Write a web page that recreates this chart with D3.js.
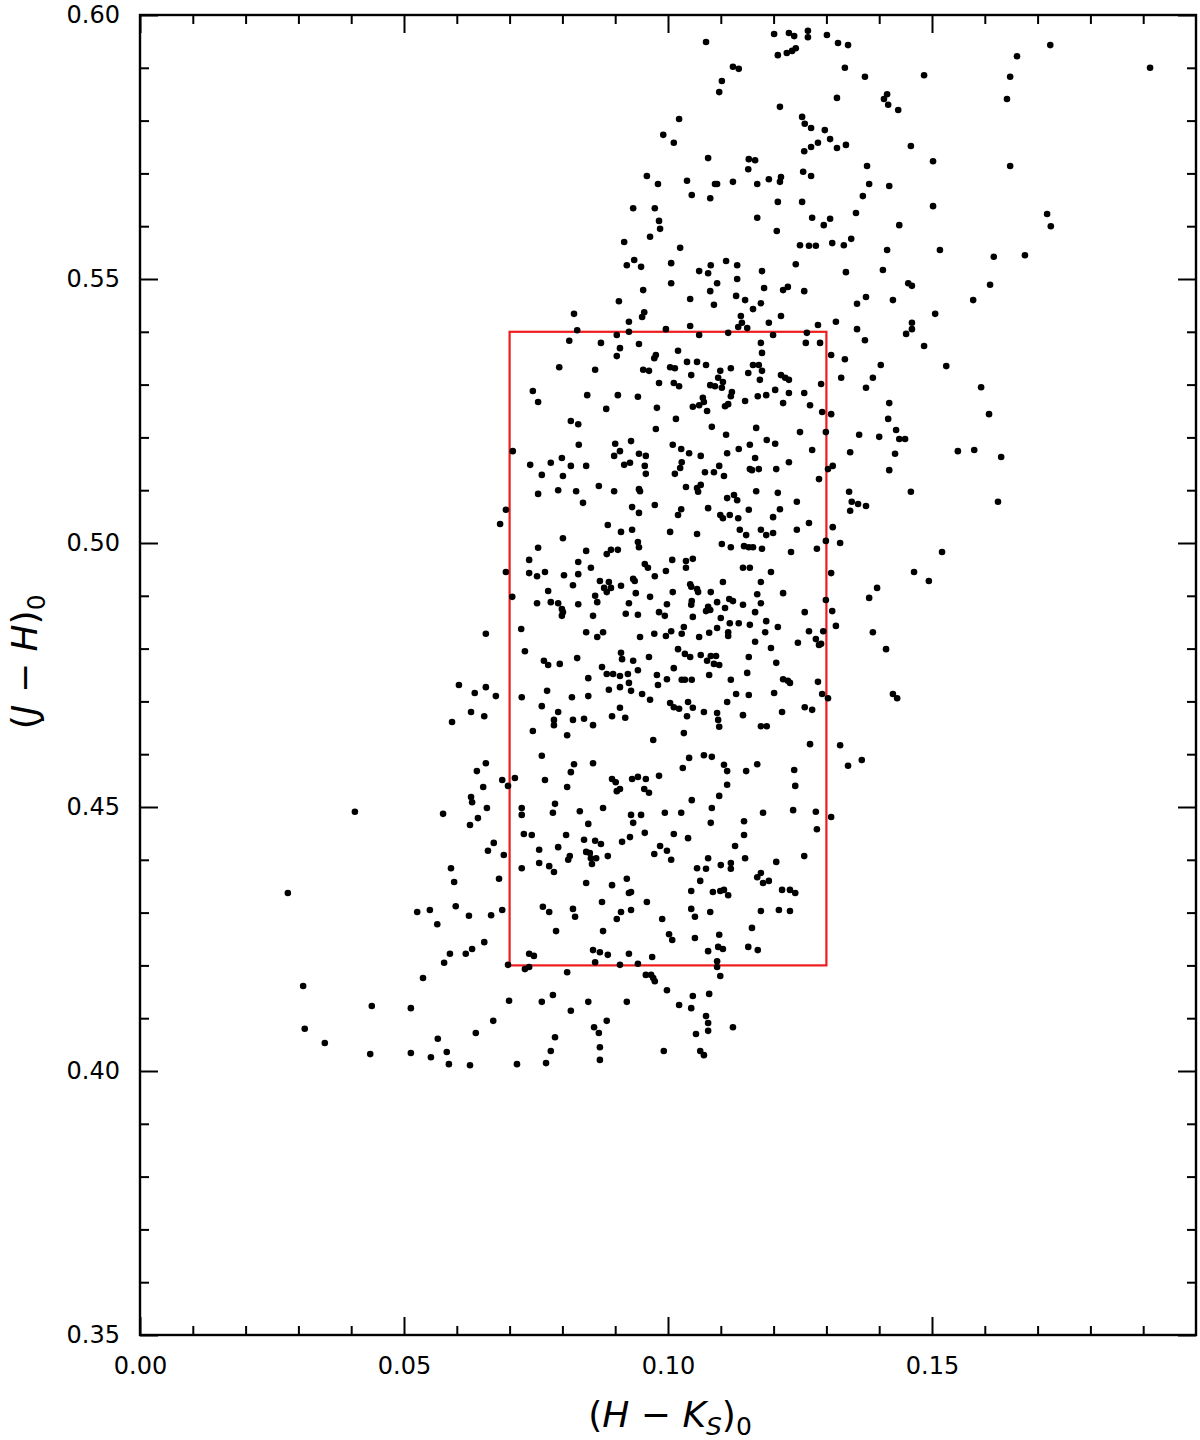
<!DOCTYPE html>
<html>
<head>
<meta charset="utf-8">
<script src="https://cdn.jsdelivr.net/npm/d3@7"></script>
<style>
  body { margin: 0; background: #fff; }
  text { font-family: "DejaVu Sans", sans-serif; fill: #000; }
</style>
</head>
<body>
<div id="chart"></div>
<script>
// (H - Ks)0 , (J - H)0 pairs
var starsLowerLeft = [[0.0627,0.4680],[0.0652,0.4672],[0.0591,0.4661],[0.0655,0.4583],[0.0638,0.4568],[0.0686,0.4551],[0.0710,0.4555],[0.0697,0.4540],[0.0650,0.4538],[0.0627,0.4519],[0.0629,0.4509],[0.0657,0.4498],[0.0407,0.4491],[0.0574,0.4487],[0.0640,0.4479],[0.0625,0.4466],[0.0670,0.4432],[0.0659,0.4417],[0.0689,0.4409],[0.0589,0.4384],[0.0595,0.4358],[0.0680,0.4364],[0.0280,0.4337],[0.0525,0.4301],[0.0549,0.4305],[0.0598,0.4312],[0.0563,0.4278],[0.0623,0.4294],[0.0665,0.4295],[0.0686,0.4305],[0.0652,0.4244],[0.0629,0.4231],[0.0617,0.4222],[0.0587,0.4222],[0.0576,0.4205],[0.0697,0.4201],[0.0536,0.4176],[0.0309,0.4161],[0.0699,0.4133],[0.0439,0.4123],[0.0513,0.4119],[0.0669,0.4095],[0.0636,0.4072],[0.0312,0.4080],[0.0564,0.4061],[0.0350,0.4053],[0.0581,0.4036],[0.0436,0.4032],[0.0513,0.4034],[0.0551,0.4026],[0.0585,0.4013],[0.0625,0.4011],[0.0714,0.4013]];

var starsTopLeft = [[0.1072,0.5949],[0.1201,0.5964],[0.1229,0.5966],[0.1239,0.5960],[0.1208,0.5924],[0.1225,0.5928],[0.1235,0.5932],[0.1242,0.5937],[0.1123,0.5902],[0.1134,0.5898],[0.1102,0.5875],[0.1097,0.5854],[0.1212,0.5826],[0.1021,0.5803],[0.0991,0.5773],[0.1011,0.5758],[0.1076,0.5729],[0.1153,0.5727],[0.1165,0.5725],[0.1152,0.5708],[0.0960,0.5695],[0.0981,0.5680],[0.1036,0.5686],[0.1089,0.5680],[0.1093,0.5680],[0.1123,0.5684],[0.1169,0.5680],[0.1191,0.5689],[0.1214,0.5693],[0.1212,0.5684],[0.1045,0.5659],[0.1080,0.5653],[0.1208,0.5646],[0.0934,0.5634],[0.0975,0.5634],[0.0983,0.5610],[0.0985,0.5595],[0.0966,0.5580],[0.1169,0.5616],[0.1206,0.5591],[0.0917,0.5570],[0.1023,0.5559],[0.0922,0.5526],[0.0936,0.5536],[0.0949,0.5523],[0.1006,0.5530],[0.1059,0.5515],[0.1076,0.5511],[0.1081,0.5526],[0.1110,0.5534],[0.1131,0.5526],[0.1178,0.5515],[0.1242,0.5528],[0.1006,0.5492],[0.1093,0.5492],[0.1131,0.5500],[0.1182,0.5483],[0.1218,0.5479],[0.1227,0.5485],[0.0953,0.5479],[0.1080,0.5477],[0.0907,0.5458],[0.1042,0.5462],[0.1129,0.5468],[0.1146,0.5460],[0.1176,0.5454],[0.1087,0.5451],[0.1161,0.5443],[0.0822,0.5434],[0.0955,0.5437],[0.0951,0.5428],[0.0926,0.5419],[0.1138,0.5430],[0.1214,0.5430],[0.1042,0.5411],[0.1191,0.5417],[0.1140,0.5417],[0.1133,0.5409],[0.1150,0.5407]];

var starsTopRight = [[0.1265,0.5970],[0.1265,0.5958],[0.1301,0.5962],[0.1322,0.5947],[0.1341,0.5943],[0.1724,0.5943],[0.1661,0.5922],[0.1913,0.5900],[0.1335,0.5900],[0.1373,0.5883],[0.1485,0.5886],[0.1648,0.5883],[0.1320,0.5843],[0.1415,0.5850],[0.1409,0.5841],[0.1417,0.5830],[0.1436,0.5820],[0.1642,0.5841],[0.1254,0.5807],[0.1259,0.5794],[0.1271,0.5786],[0.1297,0.5782],[0.1307,0.5765],[0.1258,0.5742],[0.1271,0.5750],[0.1284,0.5758],[0.1320,0.5748],[0.1337,0.5754],[0.1460,0.5752],[0.1502,0.5723],[0.1648,0.5714],[0.1256,0.5703],[0.1271,0.5695],[0.1377,0.5714],[0.1381,0.5680],[0.1419,0.5676],[0.1369,0.5657],[0.1254,0.5646],[0.1502,0.5638],[0.1356,0.5625],[0.1273,0.5616],[0.1307,0.5614],[0.1295,0.5602],[0.1438,0.5602],[0.1718,0.5623],[0.1725,0.5600],[0.1250,0.5564],[0.1267,0.5563],[0.1280,0.5563],[0.1311,0.5568],[0.1333,0.5564],[0.1347,0.5576],[0.1415,0.5555],[0.1515,0.5555],[0.1617,0.5542],[0.1676,0.5545],[0.1337,0.5513],[0.1407,0.5517],[0.1258,0.5477],[0.1455,0.5492],[0.1462,0.5487],[0.1610,0.5489],[0.1578,0.5460],[0.1358,0.5453],[0.1375,0.5466],[0.1426,0.5460],[0.1506,0.5434],[0.1284,0.5413],[0.1318,0.5419],[0.1462,0.5417]];

var starsBoxUpperLeft = [[0.0828,0.5403],[0.0926,0.5400],[0.0813,0.5383],[0.0873,0.5379],[0.0903,0.5394],[0.0909,0.5369],[0.0945,0.5377],[0.0903,0.5354],[0.0977,0.5356],[0.0974,0.5350],[0.0794,0.5333],[0.0862,0.5328],[0.0953,0.5328],[0.0964,0.5326],[0.0983,0.5303],[0.0744,0.5288],[0.0754,0.5267],[0.0847,0.5280],[0.0905,0.5280],[0.0943,0.5277],[0.0883,0.5254],[0.0979,0.5256],[0.0816,0.5231],[0.0830,0.5225],[0.0977,0.5216],[0.0706,0.5174],[0.0831,0.5186],[0.0900,0.5188],[0.0930,0.5193],[0.0909,0.5174],[0.0898,0.5165],[0.0945,0.5169],[0.0958,0.5165],[0.0739,0.5148],[0.0778,0.5152],[0.0799,0.5161],[0.0816,0.5146],[0.0845,0.5146],[0.0917,0.5148],[0.0928,0.5152],[0.0956,0.5146],[0.0761,0.5129],[0.0801,0.5127],[0.0958,0.5131],[0.0754,0.5093],[0.0792,0.5100],[0.0826,0.5098],[0.0869,0.5108],[0.0898,0.5098],[0.0945,0.5102],[0.0947,0.5098],[0.0839,0.5076],[0.0932,0.5068],[0.0975,0.5072],[0.0945,0.5057],[0.0693,0.5063],[0.0682,0.5036],[0.0886,0.5034],[0.0911,0.5021],[0.0932,0.5025],[0.0801,0.5009],[0.0943,0.5002],[0.0945,0.4992],[0.0754,0.4991],[0.0845,0.4985],[0.0892,0.4987],[0.0905,0.4987],[0.0884,0.4979],[0.0737,0.4968],[0.0830,0.4964],[0.0854,0.4953],[0.0956,0.4960],[0.0962,0.4953],[0.0693,0.4945],[0.0737,0.4943],[0.0752,0.4937],[0.0767,0.4945],[0.0803,0.4939],[0.0830,0.4941],[0.0975,0.4937],[0.0871,0.4928],[0.0888,0.4926],[0.0879,0.4915],[0.0884,0.4907],[0.0892,0.4915],[0.0911,0.4919],[0.0934,0.4932],[0.0937,0.4928],[0.0820,0.4920],[0.0773,0.4909],[0.0939,0.4905],[0.0705,0.4898],[0.0752,0.4886],[0.0778,0.4888],[0.0792,0.4886],[0.0830,0.4884],[0.0862,0.4900],[0.0866,0.4888],[0.0926,0.4886],[0.0966,0.4898],[0.0799,0.4875],[0.0801,0.4869],[0.0799,0.4862],[0.0858,0.4862],[0.0920,0.4866],[0.0943,0.4864],[0.0983,0.4869],[0.0655,0.4828],[0.0722,0.4837],[0.0845,0.4831],[0.0866,0.4822],[0.0877,0.4831],[0.0947,0.4822],[0.0974,0.4828],[0.0729,0.4795],[0.0765,0.4777],[0.0773,0.4769],[0.0795,0.4771],[0.0828,0.4782],[0.0875,0.4765],[0.0911,0.4792],[0.0913,0.4780],[0.0934,0.4777],[0.0964,0.4784],[0.0849,0.4744],[0.0884,0.4752],[0.0896,0.4752],[0.0909,0.4748],[0.0924,0.4752],[0.0943,0.4759],[0.0979,0.4750],[0.0926,0.4735],[0.0981,0.4731],[0.0604,0.4731],[0.0634,0.4716],[0.0655,0.4727],[0.0674,0.4710],[0.0723,0.4708],[0.0771,0.4720],[0.0818,0.4708],[0.0849,0.4710],[0.0888,0.4722],[0.0909,0.4727],[0.0930,0.4720],[0.0951,0.4714],[0.0966,0.4703]];

var starsBoxUpperRight = [[0.0996,0.5405],[0.1059,0.5394],[0.1114,0.5398],[0.1199,0.5394],[0.1263,0.5398],[0.1261,0.5379],[0.1288,0.5379],[0.1358,0.5405],[0.1373,0.5384],[0.1176,0.5379],[0.1178,0.5360],[0.1019,0.5364],[0.1309,0.5356],[0.1335,0.5348],[0.1403,0.5337],[0.1036,0.5343],[0.1055,0.5343],[0.1072,0.5337],[0.1004,0.5333],[0.1013,0.5331],[0.1044,0.5318],[0.1099,0.5326],[0.1119,0.5331],[0.1152,0.5322],[0.1161,0.5337],[0.1172,0.5337],[0.1178,0.5326],[0.1174,0.5309],[0.1214,0.5318],[0.1222,0.5313],[0.1229,0.5309],[0.1328,0.5313],[0.1388,0.5313],[0.1290,0.5301],[0.1011,0.5303],[0.1021,0.5297],[0.1080,0.5299],[0.1089,0.5297],[0.1095,0.5313],[0.1104,0.5305],[0.1102,0.5294],[0.1121,0.5286],[0.1119,0.5278],[0.1203,0.5290],[0.1229,0.5284],[0.1258,0.5284],[0.1375,0.5294],[0.1170,0.5278],[0.1186,0.5280],[0.1146,0.5269],[0.1066,0.5275],[0.1068,0.5267],[0.1059,0.5261],[0.1047,0.5258],[0.1074,0.5250],[0.1108,0.5259],[0.1114,0.5263],[0.1218,0.5265],[0.1269,0.5261],[0.1419,0.5265],[0.1292,0.5248],[0.1309,0.5244],[0.1015,0.5235],[0.1417,0.5235],[0.1083,0.5220],[0.1167,0.5218],[0.1110,0.5205],[0.1250,0.5210],[0.1299,0.5210],[0.1362,0.5205],[0.1400,0.5201],[0.1432,0.5214],[0.1438,0.5197],[0.1009,0.5186],[0.1025,0.5178],[0.1040,0.5170],[0.1062,0.5165],[0.1112,0.5170],[0.1134,0.5178],[0.1155,0.5186],[0.1187,0.5195],[0.1203,0.5188],[0.1273,0.5176],[0.1345,0.5172],[0.1430,0.5169],[0.1026,0.5153],[0.1023,0.5142],[0.1013,0.5131],[0.1070,0.5134],[0.1087,0.5134],[0.1097,0.5146],[0.1106,0.5127],[0.1165,0.5161],[0.1155,0.5140],[0.1159,0.5138],[0.1172,0.5140],[0.1205,0.5140],[0.1229,0.5153],[0.1286,0.5121],[0.1303,0.5140],[0.1312,0.5146],[0.1419,0.5138],[0.1034,0.5106],[0.1055,0.5104],[0.1062,0.5110],[0.1057,0.5097],[0.1112,0.5085],[0.1125,0.5091],[0.1131,0.5081],[0.1167,0.5098],[0.1208,0.5095],[0.1244,0.5078],[0.1343,0.5097],[0.1348,0.5078],[0.1360,0.5074],[0.1375,0.5070],[0.1345,0.5061],[0.1025,0.5064],[0.1019,0.5053],[0.1076,0.5066],[0.1153,0.5063],[0.1212,0.5064],[0.1099,0.5053],[0.1104,0.5047],[0.1117,0.5053],[0.1133,0.5047],[0.1199,0.5049],[0.1267,0.5038],[0.1004,0.5021],[0.1055,0.5017],[0.1136,0.5025],[0.1148,0.5015],[0.1176,0.5025],[0.1186,0.5015],[0.1199,0.5019],[0.1244,0.5025],[0.1312,0.5030],[0.1102,0.4998],[0.1119,0.4992],[0.1144,0.4994],[0.1153,0.4992],[0.1161,0.4992],[0.1178,0.4989],[0.1233,0.4983],[0.1282,0.4989],[0.1299,0.5004],[0.1326,0.5000],[0.1008,0.4968],[0.1034,0.4966],[0.1047,0.4970],[0.1034,0.4953],[0.0996,0.4947],[0.1142,0.4953],[0.1155,0.4953],[0.1195,0.4945],[0.1309,0.4943],[0.1104,0.4926],[0.1176,0.4926],[0.1042,0.4922],[0.1044,0.4917],[0.1057,0.4907],[0.1055,0.4913],[0.1009,0.4907],[0.1081,0.4907],[0.1169,0.4903],[0.1218,0.4905],[0.1396,0.4915],[0.1381,0.4896],[0.0998,0.4884],[0.1045,0.4890],[0.1044,0.4883],[0.1076,0.4879],[0.1072,0.4871],[0.1080,0.4873],[0.1093,0.4888],[0.1108,0.4877],[0.1116,0.4894],[0.1123,0.4890],[0.1142,0.4883],[0.1176,0.4886],[0.1165,0.4869],[0.1299,0.4892],[0.1311,0.4871],[0.1259,0.4869],[0.0994,0.4862],[0.1047,0.4860],[0.1100,0.4858],[0.1117,0.4848],[0.1134,0.4848],[0.1155,0.4845],[0.1186,0.4852],[0.1208,0.4841],[0.1318,0.4843],[0.1006,0.4833],[0.1030,0.4841],[0.0996,0.4824],[0.1026,0.4828],[0.1059,0.4822],[0.1078,0.4830],[0.1093,0.4839],[0.1114,0.4831],[0.1114,0.4824],[0.1184,0.4831],[0.1267,0.4833],[0.1294,0.4833],[0.1388,0.4831],[0.1165,0.4813],[0.1246,0.4811],[0.1280,0.4818],[0.1286,0.4807],[0.1290,0.4809],[0.1019,0.4799],[0.1032,0.4790],[0.1042,0.4784],[0.1062,0.4788],[0.1074,0.4777],[0.1081,0.4786],[0.1091,0.4786],[0.1087,0.4771],[0.1097,0.4769],[0.1153,0.4784],[0.1195,0.4801],[0.1205,0.4773],[0.1413,0.4799],[0.1011,0.4763],[0.0998,0.4742],[0.1026,0.4741],[0.1032,0.4741],[0.1045,0.4741],[0.1078,0.4750],[0.1119,0.4741],[0.1150,0.4754],[0.1218,0.4742],[0.1227,0.4739],[0.1231,0.4735],[0.1284,0.4737],[0.1129,0.4714],[0.1153,0.4712],[0.1201,0.4716],[0.1292,0.4714],[0.1426,0.4714],[0.1434,0.4706],[0.1303,0.4706]];

var starsRight = [[0.1451,0.5396],[0.1462,0.5405],[0.1485,0.5373],[0.1527,0.5335],[0.1593,0.5295],[0.1608,0.5244],[0.1449,0.5197],[0.1549,0.5174],[0.1580,0.5176],[0.1631,0.5163],[0.1460,0.5097],[0.1625,0.5078],[0.1519,0.4983],[0.1466,0.4945],[0.1494,0.4928]];

var starsLower = [[0.0761,0.4691],[0.0792,0.4680],[0.0784,0.4665],[0.0784,0.4655],[0.0820,0.4665],[0.0841,0.4667],[0.0858,0.4655],[0.0894,0.4672],[0.0909,0.4688],[0.0919,0.4669],[0.0744,0.4644],[0.0809,0.4636],[0.0972,0.4627],[0.1004,0.4697],[0.1011,0.4689],[0.1021,0.4686],[0.1038,0.4699],[0.1047,0.4688],[0.1036,0.4672],[0.1068,0.4680],[0.1093,0.4678],[0.1095,0.4665],[0.1097,0.4652],[0.1112,0.4699],[0.1142,0.4674],[0.1176,0.4653],[0.1187,0.4653],[0.1216,0.4680],[0.1259,0.4689],[0.1273,0.4684],[0.1030,0.4640],[0.1269,0.4619],[0.1326,0.4617],[0.1341,0.4578],[0.1367,0.4589],[0.0761,0.4597],[0.0822,0.4581],[0.0816,0.4566],[0.0858,0.4583],[0.0767,0.4551],[0.0809,0.4538],[0.0894,0.4553],[0.0901,0.4547],[0.0903,0.4530],[0.0909,0.4534],[0.0932,0.4553],[0.0943,0.4557],[0.0958,0.4553],[0.0955,0.4534],[0.0964,0.4527],[0.0983,0.4559],[0.1040,0.4593],[0.1028,0.4574],[0.1068,0.4598],[0.1083,0.4595],[0.1106,0.4580],[0.1112,0.4568],[0.1148,0.4568],[0.1169,0.4581],[0.1112,0.4542],[0.1045,0.4513],[0.1097,0.4521],[0.1239,0.4570],[0.1241,0.4540],[0.0723,0.4498],[0.0723,0.4485],[0.0786,0.4506],[0.0782,0.4489],[0.0833,0.4492],[0.0877,0.4498],[0.0849,0.4468],[0.0930,0.4485],[0.0949,0.4485],[0.0934,0.4470],[0.0994,0.4489],[0.1025,0.4489],[0.1083,0.4498],[0.1081,0.4470],[0.1144,0.4473],[0.1180,0.4489],[0.1237,0.4494],[0.1280,0.4491],[0.1309,0.4481],[0.1282,0.4458],[0.0727,0.4449],[0.0742,0.4447],[0.0807,0.4447],[0.0841,0.4438],[0.0862,0.4436],[0.0873,0.4430],[0.0928,0.4443],[0.0913,0.4434],[0.0956,0.4451],[0.1011,0.4449],[0.1038,0.4441],[0.1144,0.4447],[0.1127,0.4426],[0.0792,0.4424],[0.0756,0.4419],[0.0845,0.4415],[0.0852,0.4413],[0.0814,0.4407],[0.0811,0.4400],[0.0854,0.4403],[0.0864,0.4403],[0.0856,0.4392],[0.0886,0.4407],[0.0985,0.4426],[0.0974,0.4411],[0.0998,0.4417],[0.1006,0.4400],[0.1076,0.4403],[0.1146,0.4403],[0.1258,0.4407],[0.1205,0.4396],[0.0723,0.4384],[0.0756,0.4394],[0.0775,0.4388],[0.0784,0.4377],[0.1055,0.4384],[0.1072,0.4383],[0.1100,0.4390],[0.1119,0.4394],[0.1119,0.4383],[0.1169,0.4367],[0.1176,0.4375],[0.1180,0.4356],[0.1191,0.4360],[0.1061,0.4360],[0.0845,0.4356],[0.0922,0.4364],[0.0894,0.4352],[0.1044,0.4341],[0.1085,0.4339],[0.1099,0.4341],[0.1106,0.4343],[0.1114,0.4333],[0.0926,0.4337],[0.0930,0.4339],[0.1216,0.4343],[0.1231,0.4343],[0.1241,0.4337],[0.0960,0.4320],[0.0875,0.4320],[0.0763,0.4311],[0.0775,0.4301],[0.0820,0.4307],[0.0824,0.4292],[0.0911,0.4301],[0.0930,0.4305],[0.0903,0.4288],[0.0989,0.4288],[0.1044,0.4307],[0.1051,0.4292],[0.1080,0.4301],[0.1176,0.4303],[0.1210,0.4305],[0.1231,0.4303],[0.0788,0.4265],[0.0877,0.4265],[0.1002,0.4259],[0.1008,0.4248],[0.1051,0.4252],[0.1097,0.4258],[0.1159,0.4271],[0.1152,0.4235],[0.1170,0.4229],[0.1095,0.4235],[0.1104,0.4231],[0.1076,0.4227],[0.0858,0.4229],[0.0871,0.4225],[0.0886,0.4220],[0.0926,0.4222],[0.0970,0.4216],[0.0737,0.4222],[0.0746,0.4218],[0.0862,0.4206],[0.0909,0.4201],[0.0943,0.4203],[0.1093,0.4208],[0.1093,0.4197],[0.0729,0.4193],[0.0737,0.4197],[0.0809,0.4187],[0.0958,0.4182],[0.0968,0.4182],[0.0972,0.4176],[0.0975,0.4170],[0.1099,0.4180],[0.0998,0.4153],[0.0782,0.4144],[0.0761,0.4131],[0.0849,0.4131],[0.0922,0.4131],[0.1047,0.4142],[0.1078,0.4146],[0.1021,0.4125],[0.1044,0.4119],[0.0816,0.4114],[0.1072,0.4104],[0.1076,0.4091],[0.1076,0.4076],[0.1053,0.4070],[0.1123,0.4083],[0.0884,0.4095],[0.0860,0.4083],[0.0869,0.4072],[0.0786,0.4064],[0.0871,0.4045],[0.0778,0.4038],[0.0992,0.4038],[0.1061,0.4038],[0.1068,0.4030],[0.0871,0.4021],[0.0769,0.4015]];

// selection box in colour space
var boxHK = [0.07, 0.13];
var boxJH = [0.42, 0.54];

// axis ranges and ticks
var xDomain = [0, 0.20];
var yDomain = [0.35, 0.60];
var xMajor = [0.00, 0.05, 0.10, 0.15];
var xMinor = [0.01, 0.02, 0.03, 0.04, 0.06, 0.07, 0.08, 0.09, 0.11, 0.12, 0.13, 0.14, 0.16, 0.17, 0.18, 0.19];
var yMajor = [0.35, 0.40, 0.45, 0.50, 0.55, 0.60];
var yMinor = [0.36, 0.37, 0.38, 0.39, 0.41, 0.42, 0.43, 0.44, 0.46, 0.47, 0.48, 0.49, 0.51, 0.52, 0.53, 0.54, 0.56, 0.57, 0.58, 0.59];

var svgWidth = 1200;
var svgHeight = 1440;

var margin = {
    top: 15,
    right: 4,
    bottom: 105,
    left: 140
};

var width = svgWidth - margin.left - margin.right;
var height = svgHeight - margin.top - margin.bottom;

var svg = d3.select("#chart")
    .append("svg")
    .attr("width", svgWidth)
    .attr("height", svgHeight);

var chartGroup = svg.append("g")
    .attr("transform", `translate(${margin.left}, ${margin.top})`);

var xScale = d3.scaleLinear().domain(xDomain).range([0, width]);
var yScale = d3.scaleLinear().domain(yDomain).range([height, 0]);

var fmt = d3.format(".2f");

function styleAxis(g) {
    g.select(".domain").remove();
    g.selectAll(".tick line").attr("stroke", "#000").attr("stroke-width", 2);
    g.selectAll(".tick text")
        .style("font-family", "'DejaVu Sans', sans-serif")
        .style("font-size", "24px")
        .attr("fill", "#000");
}

// bottom axis
chartGroup.append("g")
    .attr("transform", `translate(0, ${height})`)
    .call(d3.axisBottom(xScale).tickValues(xMinor).tickSizeInner(-9).tickSizeOuter(0).tickFormat(""))
    .call(styleAxis);
chartGroup.append("g")
    .attr("transform", `translate(0, ${height})`)
    .call(d3.axisBottom(xScale).tickValues(xMajor).tickSizeInner(-18).tickSizeOuter(0).tickPadding(22).tickFormat(fmt))
    .call(styleAxis);

// top axis
chartGroup.append("g")
    .call(d3.axisTop(xScale).tickValues(xMinor).tickSizeInner(-9).tickSizeOuter(0).tickFormat(""))
    .call(styleAxis);
chartGroup.append("g")
    .call(d3.axisTop(xScale).tickValues(xMajor).tickSizeInner(-18).tickSizeOuter(0).tickFormat(""))
    .call(styleAxis);

// left axis
chartGroup.append("g")
    .call(d3.axisLeft(yScale).tickValues(yMinor).tickSizeInner(-9).tickSizeOuter(0).tickFormat(""))
    .call(styleAxis);
chartGroup.append("g")
    .call(d3.axisLeft(yScale).tickValues(yMajor).tickSizeInner(-18).tickSizeOuter(0).tickPadding(20).tickFormat(fmt))
    .call(styleAxis);

// right axis
chartGroup.append("g")
    .attr("transform", `translate(${width}, 0)`)
    .call(d3.axisRight(yScale).tickValues(yMinor).tickSizeInner(-9).tickSizeOuter(0).tickFormat(""))
    .call(styleAxis);
chartGroup.append("g")
    .attr("transform", `translate(${width}, 0)`)
    .call(d3.axisRight(yScale).tickValues(yMajor).tickSizeInner(-18).tickSizeOuter(0).tickFormat(""))
    .call(styleAxis);

// frame
chartGroup.append("rect")
    .attr("x", 0)
    .attr("y", 0)
    .attr("width", width)
    .attr("height", height)
    .attr("fill", "none")
    .attr("stroke", "#000")
    .attr("stroke-width", 2.4);

// red selection box
chartGroup.append("rect")
    .attr("x", xScale(boxHK[0]))
    .attr("y", yScale(boxJH[1]))
    .attr("width", xScale(boxHK[1]) - xScale(boxHK[0]))
    .attr("height", yScale(boxJH[0]) - yScale(boxJH[1]))
    .attr("fill", "none")
    .attr("stroke", "#ee1c1c")
    .attr("stroke-width", 2.2);

// stars
var stars = [].concat(starsLowerLeft, starsTopLeft, starsTopRight,
    starsBoxUpperLeft, starsBoxUpperRight, starsRight, starsLower);

chartGroup.selectAll("circle.star")
    .data(stars)
    .enter()
    .append("circle")
    .attr("class", "star")
    .attr("cx", d => xScale(d[0]))
    .attr("cy", d => yScale(d[1]))
    .attr("r", 3.3)
    .attr("fill", "#000");

// axis titles
var xTitle = svg.append("text")
    .attr("x", margin.left + width * 0.5 + 2)
    .attr("y", 1427)
    .attr("text-anchor", "middle")
    .style("font-size", "36px");
xTitle.append("tspan").text("(");
xTitle.append("tspan").style("font-style", "italic").text("H");
xTitle.append("tspan").text(" \u2212 ");
xTitle.append("tspan").style("font-style", "italic").text("K");
xTitle.append("tspan").style("font-style", "italic").style("font-size", "25px").attr("dy", 8).text("S");
xTitle.append("tspan").attr("dy", -8).text(")");
xTitle.append("tspan").style("font-size", "25px").attr("dy", 8).text("0");

var yTitle = svg.append("text")
    .attr("transform", `translate(37, ${margin.top + yScale(0.4775)}) rotate(-90)`)
    .attr("text-anchor", "middle")
    .style("font-size", "36px");
yTitle.append("tspan").text("(");
yTitle.append("tspan").style("font-style", "italic").text("J");
yTitle.append("tspan").text(" \u2212 ");
yTitle.append("tspan").style("font-style", "italic").text("H");
yTitle.append("tspan").text(")");
yTitle.append("tspan").style("font-size", "25px").attr("dy", 8).text("0");
</script>
</body>
</html>
